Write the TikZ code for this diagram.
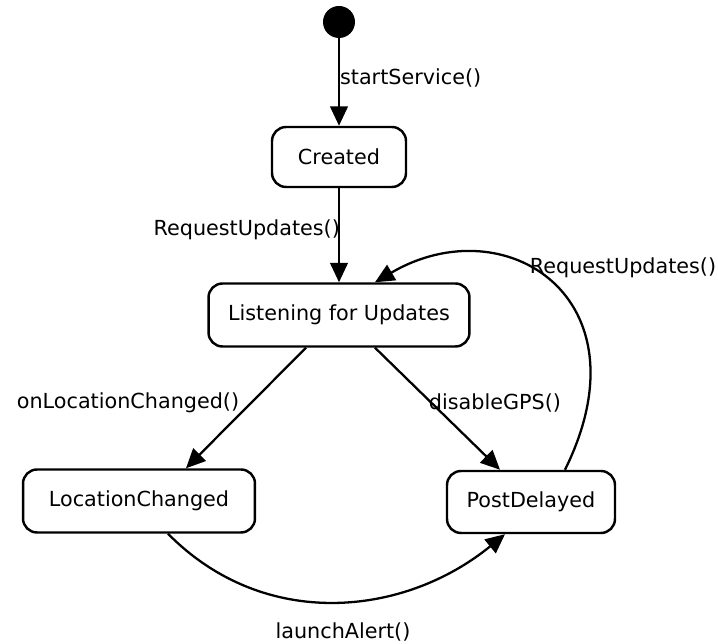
\documentclass[tikz,border=0pt]{standalone}
\usepackage{fontspec}
\setmainfont{DejaVu Sans}
\usetikzlibrary{positioning,arrows.meta}

\begin{document}
\begin{tikzpicture}[
    x=0.02cm, y=-0.02cm,
    every node/.style={font=\fontsize{11.8}{13}\selectfont},
    state/.style={draw, rectangle, rounded corners=0.28cm, line width=1.4pt, minimum height=1.24cm},
    initial/.style={circle, fill=black, minimum size=0.64cm, inner sep=0pt},
    arrow/.style={-{Triangle[length=11pt,width=10pt]}, line width=1.3pt},
    label/.style={inner sep=1pt}
]
\useasboundingbox (0,0) rectangle (718,644);

% States
\node[initial] (start) at (339,22) {};
\node[state, minimum width=2.68cm, minimum height=1.2cm] (created) at (339,157) {Created};
\node[state, minimum width=5.22cm, minimum height=1.26cm] (listen) at (339,315) {Listening for Updates};
\node[state, minimum width=4.64cm, minimum height=1.26cm] (locchanged) at (139,501) {LocationChanged};
\node[state, minimum width=3.36cm] (postdelayed) at (531,502) {PostDelayed};

% Transitions
\draw[arrow] (start) -- (created);
\draw[arrow] (created) -- (listen);
\draw[arrow] ([xshift=-0.66cm]listen.south) -- ([xshift=0.94cm]locchanged.north);
\draw[arrow] ([xshift=0.72cm]listen.south) -- ([xshift=-0.62cm]postdelayed.north);
\draw[arrow] ([xshift=0.58cm]locchanged.south) .. controls (265,632) and (405,616) .. ([xshift=-0.52cm]postdelayed.south);
\draw[arrow] ([xshift=0.68cm]postdelayed.north) .. controls (650,298) and (505,206) .. ([xshift=0.72cm]listen.north);

% Labels
\node[label, anchor=west] (lblstart) at (338,78) {startService()};
\node[label, anchor=east] (lblrequest) at (342,230) {RequestUpdates()};
\node[label] (lblonloc) at (128,403) {onLocationChanged()};
\node[label] (lbldisable) at (495,403) {disableGPS()};
\node[label] (lblrerequest) at (623,268) {RequestUpdates()};
\node[label] (lbllaunch) at (343,632) {launchAlert()};

\end{tikzpicture}
\end{document}
